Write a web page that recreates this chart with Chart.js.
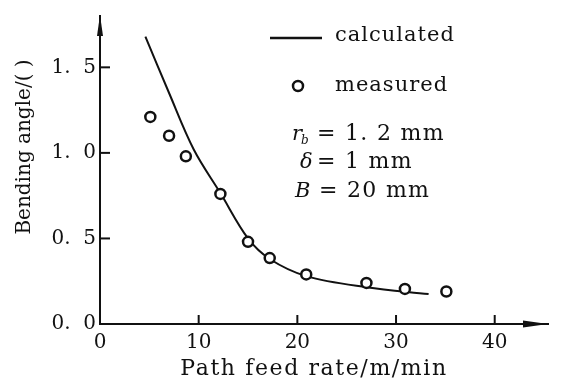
<!DOCTYPE html>
<html>
<head>
<meta charset="utf-8">
<script src="https://cdn.jsdelivr.net/npm/chart.js@4.4.1/dist/chart.umd.min.js"></script>
<style>
  html, body { margin:0; padding:0; background:#fff; }
  #wrap { width:561px; height:383px; }
</style>
</head>
<body>
<div id="wrap"><canvas id="c" width="561" height="383"></canvas></div>
<script>
// values
const measuredX = [5.1, 7.0, 8.7, 12.2, 15.0, 17.2, 20.9, 27.0, 30.9, 35.1];
const measuredY = [1.21, 1.10, 0.98, 0.76, 0.48, 0.385, 0.29, 0.24, 0.205, 0.19];
const calcX = [4.6, 7.0, 9.5, 12.2, 15.0, 17.2, 20.9, 27.0, 33.3];
const calcY = [1.68, 1.35, 1.02, 0.765, 0.50, 0.38, 0.28, 0.215, 0.175];

const xTicks = [0, 10, 20, 30, 40];
const xTickLabels = ["0", "10", "20", "30", "40"];
const yTicks = [0, 0.5, 1.0, 1.5];
const yTickLabels = ["0.  0", "0.  5", "1.  0", "1.  5"];

const xTitle = "Path feed rate/m/min";
const yTitle = "Bending angle/( )";
const seriesLabels = ["calculated", "measured"];

const INK = "#111";
const SERIF = "'DejaVu Serif', serif";

const pairs = (xs, ys) => xs.map((x, i) => ({x, y: ys[i]}));

function line(ctx, x1, y1, x2, y2){
  ctx.beginPath(); ctx.moveTo(x1, y1); ctx.lineTo(x2, y2); ctx.stroke();
}

// inward ticks, arrows, legend, notes, axis titles
const decor = {
  id: "decor",
  afterDraw(chart){
    const {ctx, chartArea: a, scales: {x, y}} = chart;
    ctx.save();
    ctx.strokeStyle = INK; ctx.fillStyle = INK; ctx.lineWidth = 2;

    xTicks.forEach(v => { if(v) { const p = x.getPixelForValue(v); line(ctx, p, a.bottom, p, a.bottom - 9); } });
    yTicks.forEach(v => { if(v) { const p = y.getPixelForValue(v); line(ctx, a.left, p, a.left + 10, p); } });

    // arrow heads
    ctx.beginPath();
    ctx.moveTo(a.left, a.top - 1); ctx.lineTo(a.left - 3, a.top + 20); ctx.lineTo(a.left + 3, a.top + 20);
    ctx.closePath(); ctx.fill();
    ctx.beginPath();
    ctx.moveTo(a.right, a.bottom); ctx.lineTo(a.right - 25, a.bottom - 3.5); ctx.lineTo(a.right - 25, a.bottom + 3.5);
    ctx.closePath(); ctx.fill();

    // legend
    ctx.lineWidth = 2.5;
    line(ctx, 270, 38, 322, 38);
    ctx.beginPath(); ctx.arc(298, 86, 5, 0, Math.PI*2); ctx.stroke();
    ctx.font = "21px " + SERIF;
    ctx.letterSpacing = "1px";
    ctx.textBaseline = "alphabetic"; ctx.textAlign = "left";
    ctx.fillText(seriesLabels[0], 335, 41);
    ctx.fillText(seriesLabels[1], 335, 91);

    // parameter notes
    ctx.letterSpacing = "0px";
    ctx.font = "italic 21px " + SERIF;
    ctx.fillText("r", 292, 140);
    ctx.fillText("δ", 300, 168);
    ctx.fillText("B", 295, 197);
    ctx.font = "italic 12px " + SERIF;
    ctx.fillText("b", 301, 144);
    ctx.font = "22px " + SERIF;
    ctx.letterSpacing = "1.3px";
    ctx.fillText("= 1. 2 mm", 317, 140);
    ctx.fillText("= 1 mm", 317, 168);
    ctx.fillText("= 20 mm", 319, 197);

    // x axis title
    ctx.font = "22px " + SERIF;
    ctx.letterSpacing = "1.6px";
    ctx.textAlign = "center";
    ctx.fillText(xTitle, 314, 375);

    // y axis title
    ctx.letterSpacing = "0px";
    ctx.font = "20px " + SERIF;
    ctx.translate(30, 147);
    ctx.rotate(-Math.PI/2);
    ctx.fillText(yTitle, 0, 0);
    ctx.restore();
  }
};

new Chart(document.getElementById("c"), {
  type: "scatter",
  data: {
    datasets: [
      {
        label: seriesLabels[1],
        data: pairs(measuredX, measuredY),
        pointStyle: "circle",
        pointRadius: 5,
        pointBorderWidth: 2.5,
        pointBorderColor: INK,
        pointBackgroundColor: "#fff",
        order: 0
      },
      {
        label: seriesLabels[0],
        data: pairs(calcX, calcY),
        showLine: true,
        tension: 0.35,
        borderColor: INK,
        borderWidth: 2,
        pointRadius: 0,
        order: 1
      }
    ]
  },
  options: {
    responsive: false,
    animation: false,
    devicePixelRatio: 1,
    layout: { padding: { left: 0, right: 13, top: 9, bottom: 0 } },
    plugins: { legend: { display: false }, tooltip: { enabled: false } },
    scales: {
      x: {
        type: "linear", min: 0, max: 45.4,
        grid: { display: false, drawTicks: false },
        border: { display: true, color: INK, width: 2 },
        afterBuildTicks: s => { s.ticks = xTicks.map(v => ({value: v})); },
        afterFit: s => { s.height = 59; },
        ticks: {
          autoSkip: false, maxRotation: 0, padding: 7, color: INK,
          font: { family: SERIF, size: 20 },
          callback: (v, i) => xTickLabels[i]
        }
      },
      y: {
        type: "linear", min: 0, max: 1.8,
        grid: { display: false, drawTicks: false },
        border: { display: true, color: INK, width: 2 },
        afterBuildTicks: s => { s.ticks = yTicks.map(v => ({value: v})); },
        afterFit: s => { s.width = 100; },
        ticks: {
          autoSkip: false, padding: 4, color: INK,
          font: { family: SERIF, size: 20 },
          callback: (v, i) => yTickLabels[i]
        }
      }
    }
  },
  plugins: [decor]
});
</script>
</body>
</html>
